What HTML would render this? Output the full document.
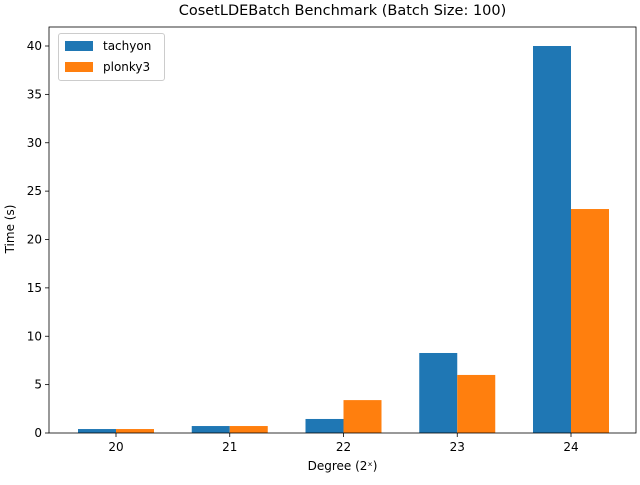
<!DOCTYPE html>
<html><head><meta charset="utf-8"><style>
body{margin:0;background:#fff;font-family:"Liberation Sans","DejaVu Sans",sans-serif}
</style></head><body>
<svg id="chart" width="640" height="480" xmlns="http://www.w3.org/2000/svg" font-family="DejaVu Sans, Liberation Sans, sans-serif"></svg>
<script>
const categories=["20","21","22","23","24"];
const tachyon=[0.41,0.72,1.45,8.27,40.0];
const plonky3=[0.41,0.72,3.4,6.0,23.15];
const yTicks=[0,5,10,15,20,25,30,35,40];
const L=49,R=636,T=27,B=433;
const ns="http://www.w3.org/2000/svg";
const svg=document.getElementById('chart');
function y(v){return B-v*(B-46)/40;}
function xc(i){return 116+i*113.75;}
const bw=38;
function mk(t,a,p){const e=document.createElementNS(ns,t);for(const k in a)e.setAttribute(k,a[k]);(p||svg).appendChild(e);return e;}
mk('rect',{x:0,y:0,width:640,height:480,fill:'#fff'});
categories.forEach((c,i)=>{
 let r=mk('rect',{x:xc(i)-bw,y:y(tachyon[i]),width:bw,height:B-y(tachyon[i]),fill:'#1f77b4'});
 
 
 let r2=mk('rect',{x:xc(i),y:y(plonky3[i]),width:bw,height:B-y(plonky3[i]),fill:'#ff7f0e'});
 
 
 mk('line',{x1:xc(i),x2:xc(i),y1:B,y2:B+4,stroke:'#000','stroke-width':0.8});
 let t=mk('text',{x:xc(i),y:B+18,'font-size':12,'text-anchor':'middle'});t.textContent=c;
 
 
});
yTicks.forEach(v=>{
 mk('line',{x1:L-4,x2:L,y1:y(v),y2:y(v),stroke:'#000','stroke-width':0.8});
 let t=mk('text',{x:L-7,y:y(v)+4,'font-size':12,'text-anchor':'end'});t.textContent=v;
 
 
});
let f=mk('rect',{x:L,y:T,width:R-L,height:B-T,fill:'none',stroke:'#000','stroke-width':0.8});


</script>
<div style="position:absolute;left:0;top:0;width:640px;height:480px;pointer-events:none;font-family:'DejaVu Sans','Liberation Sans',sans-serif">
<div style="position:absolute;left:49px;width:587px;top:3px;text-align:center;font-size:14.5px">CosetLDEBatch Benchmark (Batch Size: 100)</div>
<div style="position:absolute;left:49px;width:587px;top:459px;text-align:center;font-size:12px">Degree (2ˣ)</div>
<div style="position:absolute;left:-20px;top:222px;width:60px;text-align:center;font-size:12px;transform:rotate(-90deg)">Time (s)</div>
<div style="position:absolute;left:58px;top:33px;width:105px;height:46px;border:1px solid #ccc;border-radius:3px;background:#fff;font-size:12px">
 <div style="position:absolute;left:6px;top:5px;white-space:nowrap"><span style="display:inline-block;width:28px;height:10px;background:#1f77b4;vertical-align:-1px"></span><span style="margin-left:10px">tachyon</span></div>
 <div style="position:absolute;left:6px;top:26px;white-space:nowrap"><span style="display:inline-block;width:28px;height:10px;background:#ff7f0e;vertical-align:-1px"></span><span style="margin-left:10px">plonky3</span></div>
</div>
</div>
</body></html>
